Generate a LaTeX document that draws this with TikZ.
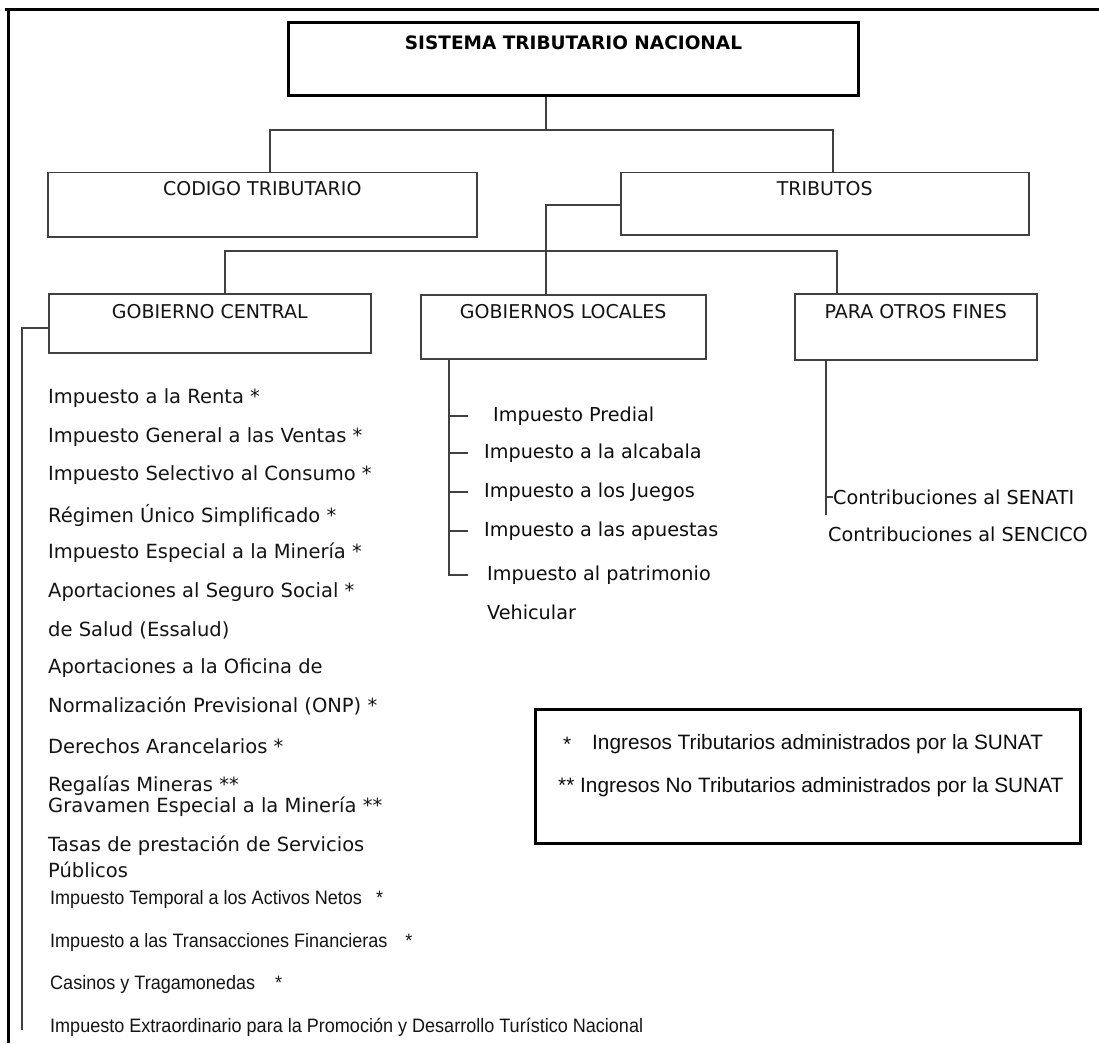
\documentclass[tikz,border=0pt]{standalone}
\usepackage{fontspec}
\setmainfont{DejaVu Sans}
\newfontfamily\arialf{Liberation Sans}
\newfontfamily\arialn[FakeStretch=0.93]{Liberation Sans}
\usetikzlibrary{calc}
\begin{document}
\begin{tikzpicture}[x=1pt,y=-1pt,
  box/.style={draw=black!75, line width=1.5pt, anchor=north west, inner sep=0pt},
  conn/.style={draw=black!75, line width=1.4pt},
  lbl/.style={font=\fontsize{19}{22}\selectfont, text=black!92, inner sep=0pt},
  item/.style={font=\fontsize{19.5}{22}\selectfont, text=black!92, anchor=west, inner sep=0pt},
  mitem/.style={font=\fontsize{19.2}{22}\selectfont, text=black!95, anchor=west, inner sep=0pt},
  nitem/.style={font=\arialn\fontsize{19.4}{22}\selectfont, text=black!92, anchor=west, inner sep=0pt},
  leg/.style={font=\arialf\fontsize{20.8}{24}\selectfont, text=black!95, anchor=west, inner sep=0pt}]
\useasboundingbox[fill=white] (0,0) rectangle (1099,1043);
% frame
\draw[line width=3pt] (5,10) -- (1099,10);
\draw[line width=3pt] (8,8.5) -- (8,1043);
% boxes
\node[box, draw=black, line width=3pt, minimum width=570pt, minimum height=73pt] (top) at (287,21) {};
\node[font=\bfseries\fontsize{18.5}{22}\selectfont, text=black, inner sep=0pt] (ttl) at ($(top.north)+(0,22)$) {SISTEMA TRIBUTARIO NACIONAL};
\node[box, minimum width=429pt, minimum height=64pt] (codigo) at (47,172) {};
\node[lbl] (codigoT) at ($(codigo.north)+(0,17)$) {CODIGO TRIBUTARIO};
\node[box, minimum width=408pt, minimum height=62pt] (tributos) at (620,172) {};
\node[lbl] (tributosT) at ($(tributos.north)+(0,17)$) {TRIBUTOS};
\node[box, minimum width=322pt, minimum height=59pt] (central) at (48,293) {};
\node[lbl] (centralT) at ($(central.north)+(0,19)$) {GOBIERNO CENTRAL};
\node[box, minimum width=285pt, minimum height=64pt] (locales) at (420,294) {};
\node[lbl] (localesT) at ($(locales.north)+(0,18)$) {GOBIERNOS LOCALES};
\node[box, minimum width=242pt, minimum height=66pt] (otros) at (794,293) {};
\node[lbl] (otrosT) at ($(otros.north)+(0,19)$) {PARA OTROS FINES};
% tree connectors
\coordinate (j0) at (546,130);
\coordinate (hA) at (270,130);
\coordinate (hB) at (833,130);
\draw[conn] (j0 |- top.south) -- (j0);
\draw[conn] (hA |- codigo.north) -- (hA) -- (hB) -- (hB |- tributos.north);
\coordinate (j2) at (546,205);
\draw[conn] (j2 -| tributos.west) -- (j2) -- (j2 |- locales.north);
\coordinate (hC) at (225,251);
\coordinate (hD) at (837,251);
\draw[conn] (hC |- central.north) -- (hC) -- (hD) -- (hD |- otros.north);
% left column
\coordinate (gcL) at (22,328);
\draw[conn] (gcL -| central.west) -- (gcL) -- (22,1030);
\node[item] (l1) at (48,398) {Impuesto a la Renta *};
\node[item] (l2) at (48,437) {Impuesto General a las Ventas *};
\node[item] (l3) at (48,475) {Impuesto Selectivo al Consumo *};
\node[item] (l4) at (48,515) {Régimen Único Simplificado *};
\node[item] (l5) at (48,553) {Impuesto Especial a la Minería *};
\node[item] (l6) at (48,592) {Aportaciones al Seguro Social *};
\node[item] (l7) at (48,630) {de Salud (Essalud)};
\node[item] (l8) at (48,668) {Aportaciones a la Oficina de};
\node[item] (l9) at (48,706) {Normalización Previsional (ONP) *};
\node[item] (l10) at (48,746) {Derechos Arancelarios *};
\node[item] (l11) at (48,786) {Regalías Mineras **};
\node[item] (l12) at (48,807) {Gravamen Especial a la Minería **};
\node[item] (l13) at (48,846) {Tasas de prestación de Servicios};
\node[item] (l14) at (48,870) {Públicos};
\node[nitem] (l15) at (50,899) {Impuesto Temporal a los Activos Netos\hspace{14pt}*};
\node[nitem] (l16) at (50,942) {Impuesto a las Transacciones Financieras\hspace{18pt}*};
\node[nitem] (l17) at (50,984) {Casinos y Tragamonedas\hspace{20pt}*};
\node[nitem] (l18) at (50,1027) {Impuesto Extraordinario para la Promoción y Desarrollo Turístico Nacional};
% middle column
\node[mitem] (m1) at (493,416) {Impuesto Predial};
\node[mitem] (m2) at (484,453) {Impuesto a la alcabala};
\node[mitem] (m3) at (484,492) {Impuesto a los Juegos};
\node[mitem] (m4) at (484,531) {Impuesto a las apuestas};
\node[mitem] (m5) at (487,575) {Impuesto al patrimonio};
\node[mitem] (m6) at (487,612) {Vehicular};
\coordinate (mv) at (449,576);
\draw[conn] (mv |- locales.south) -- (mv);
\foreach \n in {m1,m2,m3,m4,m5} {\draw[conn] (mv |- \n.west) -- ++(19,0);}
% right column
\node[mitem] (r1) at (833,497) {Contribuciones al SENATI};
\node[mitem] (r2) at (828,534) {Contribuciones al SENCICO};
\coordinate (rv) at (826,515);
\draw[conn] (rv |- otros.south) -- (rv);
\draw[conn] (rv |- r1.west) -- (r1.west);
% legend
\node[box, draw=black, line width=2.5pt, minimum width=545pt, minimum height=134pt] (legend) at (534,708) {};
\node[leg] (s1) at (563,744) {*};
\node[leg] (g1) at (592,744) {Ingresos Tributarios administrados por la SUNAT};
\node[leg] (g2) at (558,787) {** Ingresos No Tributarios administrados por la SUNAT};
\end{tikzpicture}
\end{document}
